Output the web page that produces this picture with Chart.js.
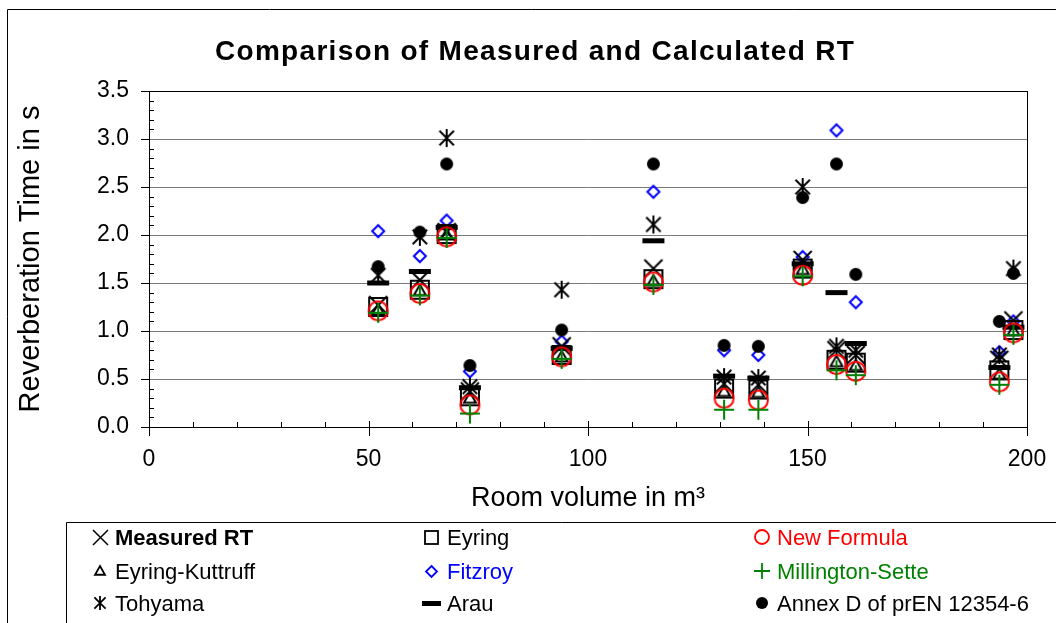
<!DOCTYPE html>
<html>
<head>
<meta charset="utf-8">
<title>Comparison of Measured and Calculated RT</title>
<script src="https://cdn.jsdelivr.net/npm/chart.js@4.4.1/dist/chart.umd.min.js"></script>
<style>
  html, body { margin: 0; padding: 0; background: #fff; }
  canvas { display: block; }
</style>
</head>
<body>
<canvas id="rt-chart" width="1056" height="623"></canvas>
<script>
// room volumes in m³ (one per measured room)
var volumes = [52.2, 61.7, 67.8, 73.1, 94.0, 114.9, 131.0, 138.8, 148.9, 156.6, 161.0, 193.7, 196.9];

// reverberation times in s
var measuredRT = [1.27, 1.53, 2.03, 0.37, 0.84, 1.65, 0.45, 0.44, 1.74, 0.80, 0.75, 0.70, 1.11];
var eyring     = [1.25, 1.43, 2.01, 0.32, 0.75, 1.54, 0.40, 0.39, 1.65, 0.70, 0.67, 0.59, 1.01];
var newFormula = [1.21, 1.39, 1.98, 0.23, 0.73, 1.51, 0.30, 0.28, 1.58, 0.65, 0.58, 0.47, 0.98];
var kuttruff   = [1.22, 1.42, 2.00, 0.30, 0.73, 1.52, 0.37, 0.36, 1.64, 0.68, 0.64, 0.55, 1.00];
var fitzroy    = [2.04, 1.78, 2.15, 0.58, 0.89, 2.45, 0.80, 0.75, 1.77, 3.09, 1.30, 0.78, 1.10];
var millington = [1.19, 1.37, 1.97, 0.14, 0.71, 1.48, 0.18, 0.18, 1.57, 0.59, 0.54, 0.44, 0.96];
var tohyama    = [1.58, 1.98, 3.01, 0.42, 1.43, 2.11, 0.52, 0.51, 2.50, 0.84, 0.80, 0.75, 1.65];
var arau       = [1.50, 1.62, 2.08, 0.41, 0.82, 1.94, 0.53, 0.51, 1.70, 1.40, 0.87, 0.62, 1.04];
var annexD     = [1.67, 2.03, 2.74, 0.64, 1.01, 2.74, 0.85, 0.84, 2.39, 2.74, 1.59, 1.10, 1.60];

var xTicks = [0, 50, 100, 150, 200];
var yTicks = [0, 0.5, 1.0, 1.5, 2.0, 2.5, 3.0, 3.5];

var RED = '#ff0000', BLUE = '#0000ff', GREEN = '#008000', BLACK = '#000000';

Chart.defaults.font.family = '"Liberation Sans", Arial, sans-serif';
Chart.defaults.color = BLACK;

// excel-like marker glyphs drawn into small canvases
function makeMarker(kind, size, color, lw) {
    var pad = Math.ceil(lw) + 1;
    var w = size + pad * 2;
    var h = kind === 'bar' ? 7 : w;
    var c = document.createElement('canvas');
    c.width = w; c.height = h;
    var g = c.getContext('2d');
    var cx = w / 2, cy = h / 2, r = size / 2;
    g.strokeStyle = color; g.fillStyle = color; g.lineWidth = lw;
    g.beginPath();
    if (kind === 'x') {
        g.moveTo(cx - r, cy - r); g.lineTo(cx + r, cy + r);
        g.moveTo(cx + r, cy - r); g.lineTo(cx - r, cy + r);
        g.stroke();
    } else if (kind === 'square') {
        g.strokeRect(cx - r, cy - r, size, size);
    } else if (kind === 'circle') {
        g.arc(cx, cy, r, 0, Math.PI * 2); g.stroke();
    } else if (kind === 'triangle') {
        g.moveTo(cx, cy - r); g.lineTo(cx + r, cy + r * 0.75); g.lineTo(cx - r, cy + r * 0.75);
        g.closePath(); g.stroke();
    } else if (kind === 'diamond') {
        g.moveTo(cx, cy - r); g.lineTo(cx + r, cy); g.lineTo(cx, cy + r); g.lineTo(cx - r, cy);
        g.closePath(); g.stroke();
    } else if (kind === 'plus') {
        g.moveTo(cx - r, cy); g.lineTo(cx + r, cy);
        g.moveTo(cx, cy - r); g.lineTo(cx, cy + r);
        g.stroke();
    } else if (kind === 'asterisk') {
        var d = r * 0.8;
        g.moveTo(cx - d, cy - d); g.lineTo(cx + d, cy + d);
        g.moveTo(cx + d, cy - d); g.lineTo(cx - d, cy + d);
        g.moveTo(cx, cy - r); g.lineTo(cx, cy + r);
        g.stroke();
    } else if (kind === 'bar') {
        g.fillRect(cx - r, cy - 2.5, size, 5);
    } else if (kind === 'dot') {
        g.arc(cx, cy, r, 0, Math.PI * 2); g.fill();
    }
    return c;
}

// label, values, marker, size on plot, size in legend, colour, text colour, draw order (low = on top)
var series = [
    { label: 'Measured RT', data: measuredRT, kind: 'x', size: 18, lsize: 15, color: BLACK, text: BLACK, order: 5, bold: true },
    { label: 'Eyring', data: eyring, kind: 'square', size: 18, lsize: 13, color: BLACK, text: BLACK, order: 4 },
    { label: 'New Formula', data: newFormula, kind: 'circle', size: 19, lsize: 14, color: RED, text: RED, order: 2 },
    { label: 'Eyring-Kuttruff', data: kuttruff, kind: 'triangle', size: 12, lsize: 10, color: BLACK, text: BLACK, order: 3 },
    { label: 'Fitzroy', data: fitzroy, kind: 'diamond', size: 12, lsize: 11, color: BLUE, text: BLUE, order: 8 },
    { label: 'Millington-Sette', data: millington, kind: 'plus', size: 20, lsize: 16, color: GREEN, text: GREEN, order: 1 },
    { label: 'Tohyama', data: tohyama, kind: 'asterisk', size: 18, lsize: 14, color: BLACK, text: BLACK, order: 7 },
    { label: 'Arau', data: arau, kind: 'bar', size: 22, lsize: 19, color: BLACK, text: BLACK, order: 6 },
    { label: 'Annex D of prEN 12354-6', data: annexD, kind: 'dot', size: 13, lsize: 12, color: BLACK, text: BLACK, order: 0 }
];

var datasets = series.map(function (s) {
    s.marker = makeMarker(s.kind, s.size, s.color, 2);
    s.legendMarker = makeMarker(s.kind, s.lsize, s.color, s.kind === 'x' ? 1.5 : 1.8);
    return {
        label: s.label,
        data: volumes.map(function (v, i) { return { x: v, y: s.data[i] }; }),
        pointStyle: s.marker,
        pointRadius: 8,
        showLine: false,
        order: s.order
    };
});

// frame, tick marks, title and legend box
var decorPlugin = {
    id: 'decor',
    afterDraw: function (chart) {
        var ctx = chart.ctx, a = chart.chartArea;
        var xs = chart.scales.x, ys = chart.scales.y;
        ctx.save();
        ctx.strokeStyle = BLACK;
        ctx.lineWidth = 1;
        ctx.beginPath();
        ctx.moveTo(a.left, Math.round(a.top) + 0.5); ctx.lineTo(a.right, Math.round(a.top) + 0.5);
        ctx.moveTo(Math.round(a.right) + 0.5, a.top); ctx.lineTo(Math.round(a.right) + 0.5, a.bottom + 9);
        var v, px, py, i;
        for (v = 10; v < 200; v += 10) {
            if (v % 50 === 0) continue;
            px = Math.round(xs.getPixelForValue(v)) + 0.5;
            ctx.moveTo(px, a.bottom); ctx.lineTo(px, a.bottom - 5);
        }
        xTicks.forEach(function (t) {
            px = Math.round(xs.getPixelForValue(t)) + 0.5;
            ctx.moveTo(px, a.bottom - 6); ctx.lineTo(px, a.bottom + 9);
        });
        for (i = 1; i < 35; i++) {
            if (i % 5 === 0) continue;
            py = Math.round(ys.getPixelForValue(i / 10)) + 0.5;
            ctx.moveTo(a.left, py); ctx.lineTo(a.left + 5, py);
        }
        yTicks.forEach(function (t) {
            py = Math.round(ys.getPixelForValue(t)) + 0.5;
            ctx.moveTo(a.left - 8, py); ctx.lineTo(a.left, py);
        });
        // outer chart frame
        ctx.moveTo(7.5, 623); ctx.lineTo(7.5, 9.5); ctx.lineTo(1056, 9.5);
        // legend box
        ctx.moveTo(66.5, 623); ctx.lineTo(66.5, 522.5); ctx.lineTo(1056, 522.5);
        ctx.stroke();

        // title
        ctx.fillStyle = BLACK;
        ctx.font = 'bold 28px "Liberation Sans", Arial, sans-serif';
        ctx.letterSpacing = '1.3px';
        ctx.textAlign = 'left';
        ctx.textBaseline = 'alphabetic';
        ctx.fillText('Comparison of Measured and Calculated RT', 215, 60);
        ctx.letterSpacing = '0px';

        // legend, three columns
        var colMarker = [100, 431, 762], colText = [115, 447, 777];
        var rowMid = [537, 571, 603], rowBase = [545, 579, 611];
        series.forEach(function (s, k) {
            var col = k % 3, row = Math.floor(k / 3);
            var m = s.legendMarker;
            ctx.drawImage(m, Math.round(colMarker[col] - m.width / 2), Math.round(rowMid[row] - m.height / 2));
            ctx.font = (s.bold ? 'bold ' : '') + '22px "Liberation Sans", Arial, sans-serif';
            ctx.fillStyle = s.text;
            ctx.fillText(s.label, colText[col], rowBase[row]);
        });
        ctx.restore();
    }
};

var ctx = document.getElementById('rt-chart').getContext('2d');
var rtChart = new Chart(ctx, {
    type: 'scatter',
    data: { datasets: datasets },
    options: {
        responsive: false,
        animation: false,
        layout: { padding: { left: 10, top: 91, right: 29, bottom: 106 } },
        plugins: {
            legend: { display: false },
            tooltip: { enabled: false },
            title: { display: false }
        },
        scales: {
            x: {
                type: 'linear',
                min: 0,
                max: 200,
                afterFit: function (s) { s.height = 90; s.paddingLeft = 0; s.paddingRight = 0; },
                afterBuildTicks: function (s) { s.ticks = xTicks.map(function (v) { return { value: v }; }); },
                grid: { display: false, drawTicks: false },
                border: { color: BLACK, width: 1 },
                ticks: { padding: 19, maxRotation: 0, font: { size: 23 }, color: BLACK,
                         callback: function (v) { return String(v); } },
                title: { display: true, text: 'Room volume in m³', font: { size: 27 }, color: BLACK,
                         padding: { top: 0, bottom: 2 } }
            },
            y: {
                min: 0,
                max: 3.5,
                afterFit: function (s) { s.width = 139; s.paddingTop = 0; s.paddingBottom = 0; },
                afterBuildTicks: function (s) { s.ticks = yTicks.map(function (v) { return { value: v }; }); },
                grid: {
                    drawTicks: false,
                    color: function (c) {
                        if (c.tick && c.tick.value === 0) return 'rgba(0,0,0,0)';
                        if (c.tick && c.tick.value === 3.5) return BLACK;
                        return '#7a7a7a';
                    }
                },
                border: { color: BLACK, width: 1 },
                ticks: { padding: 20, font: { size: 23 }, color: BLACK,
                         callback: function (v) { return Number(v).toFixed(1); } },
                title: { display: true, text: 'Reverberation Time in s', font: { size: 29 }, color: BLACK,
                         padding: { top: 4, bottom: 0 } }
            }
        }
    },
    plugins: [decorPlugin]
});
</script>
</body>
</html>
